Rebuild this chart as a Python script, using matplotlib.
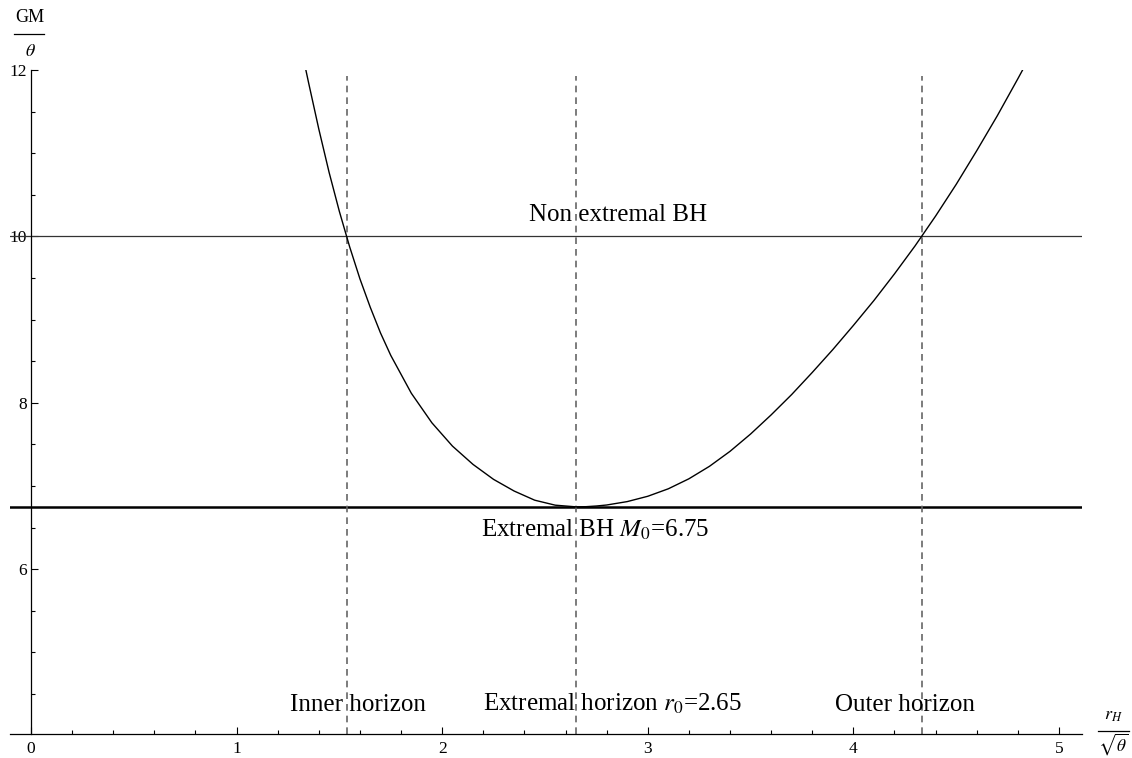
import numpy as np
import matplotlib.pyplot as plt
from matplotlib.lines import Line2D
from matplotlib.ticker import MultipleLocator

# values (r_H / sqrt(theta), GM / theta)
r_vals = [1.30, 1.35, 1.40, 1.45, 1.50, 1.55, 1.60, 1.65, 1.70, 1.75, 1.85,
          1.95, 2.05, 2.15, 2.25, 2.35, 2.45, 2.55, 2.65, 2.70, 2.75, 2.80,
          2.90, 3.00, 3.10, 3.20, 3.30, 3.40, 3.50, 3.60, 3.70, 3.80, 3.90,
          4.00, 4.10, 4.20, 4.30, 4.40, 4.50, 4.60, 4.70, 4.80, 4.90]
m_vals = [12.43, 11.85, 11.29, 10.77, 10.30, 9.875, 9.49, 9.15, 8.84, 8.57, 8.115,
          7.76, 7.48, 7.26, 7.08, 6.94, 6.83, 6.77, 6.75, 6.752, 6.76, 6.772,
          6.813, 6.877, 6.967, 7.087, 7.237, 7.417, 7.625, 7.855, 8.10, 8.365, 8.64,
          8.93, 9.23, 9.55, 9.886, 10.245, 10.625, 11.03, 11.45, 11.895, 12.35]

m_extremal = 6.75
m_nonextremal = 10.0
r_inner = 1.537
r_extremal = 2.65
r_outer = 4.334

x_ticks = [0, 1, 2, 3, 4, 5]
y_ticks = [6, 8, 10, 12]

W, H = 1132, 758


def px(x, y):
    # pixel position -> figure fraction
    return x / W, 1 - y / H


def main():
    plt.rcParams['font.family'] = ['Liberation Serif', 'DejaVu Serif']
    plt.rcParams['mathtext.fontset'] = 'stix'

    fig = plt.figure(figsize=(W / 100, H / 100), dpi=100)
    ax = fig.add_axes([10 / W, 24 / H, 1072 / W, 664 / H])

    ax.set_xlim(-0.102, 5.112)
    ax.set_ylim(4.02, 12.0)

    # horizontal reference lines
    ax.axhline(m_nonextremal, color='#333333', lw=0.9)
    ax.axhline(m_extremal, color='black', lw=1.8)

    # horizons
    for r in [r_inner, r_extremal, r_outer]:
        ax.vlines(r, 4.02, 11.93, colors='#666666', lw=1.2,
                  linestyles=(0, (4, 3)))

    ax.plot(r_vals, m_vals, color='black', lw=1.0)

    # Mathematica-like axes
    for s in ['top', 'right']:
        ax.spines[s].set_visible(False)
    ax.spines['left'].set_position(('data', 0))
    ax.spines['left'].set_linewidth(0.9)
    ax.spines['bottom'].set_linewidth(0.9)

    ax.set_xticks(x_ticks)
    ax.set_yticks(y_ticks)
    ax.xaxis.set_minor_locator(MultipleLocator(0.2))
    ax.yaxis.set_minor_locator(MultipleLocator(0.5))
    ax.tick_params(which='major', direction='in', length=5, width=0.8,
                   labelsize=12.5, pad=5)
    ax.tick_params(which='minor', direction='in', length=3, width=0.8)
    ax.tick_params(axis='y', pad=3)

    fs = 18
    ax.text(2.855, 10.18, 'Non extremal BH', ha='center', va='baseline', fontsize=fs)
    ax.text(2.743, 6.39, r'Extremal BH $M_0$=6.75', ha='center', va='baseline', fontsize=fs)
    ax.text(1.59, 4.296, 'Inner horizon', ha='center', va='baseline', fontsize=fs)
    ax.text(2.83, 4.296, r'Extremal horizon $r_0$=2.65', ha='center', va='baseline', fontsize=fs)
    ax.text(4.25, 4.296, 'Outer horizon', ha='center', va='baseline', fontsize=fs)

    # axis labels drawn as fractions
    fig.text(*px(30, 17), 'GM', ha='center', va='center', fontsize=13)
    fig.add_artist(Line2D([14 / W, 44 / W], [1 - 34 / H, 1 - 34 / H],
                          color='black', lw=0.9))
    fig.text(*px(30, 52), r'$\theta$', ha='center', va='center', fontsize=13)

    fig.text(*px(1113, 716), r'$r_H$', ha='center', va='center', fontsize=13)
    fig.add_artist(Line2D([1098 / W, 1129 / W], [1 - 731 / H, 1 - 731 / H],
                          color='black', lw=0.9))
    fig.text(*px(1113, 744), r'$\sqrt{\theta}$', ha='center', va='center', fontsize=12.5)

    fig.savefig('out.png', dpi=100)


if __name__ == "__main__":
    main()
